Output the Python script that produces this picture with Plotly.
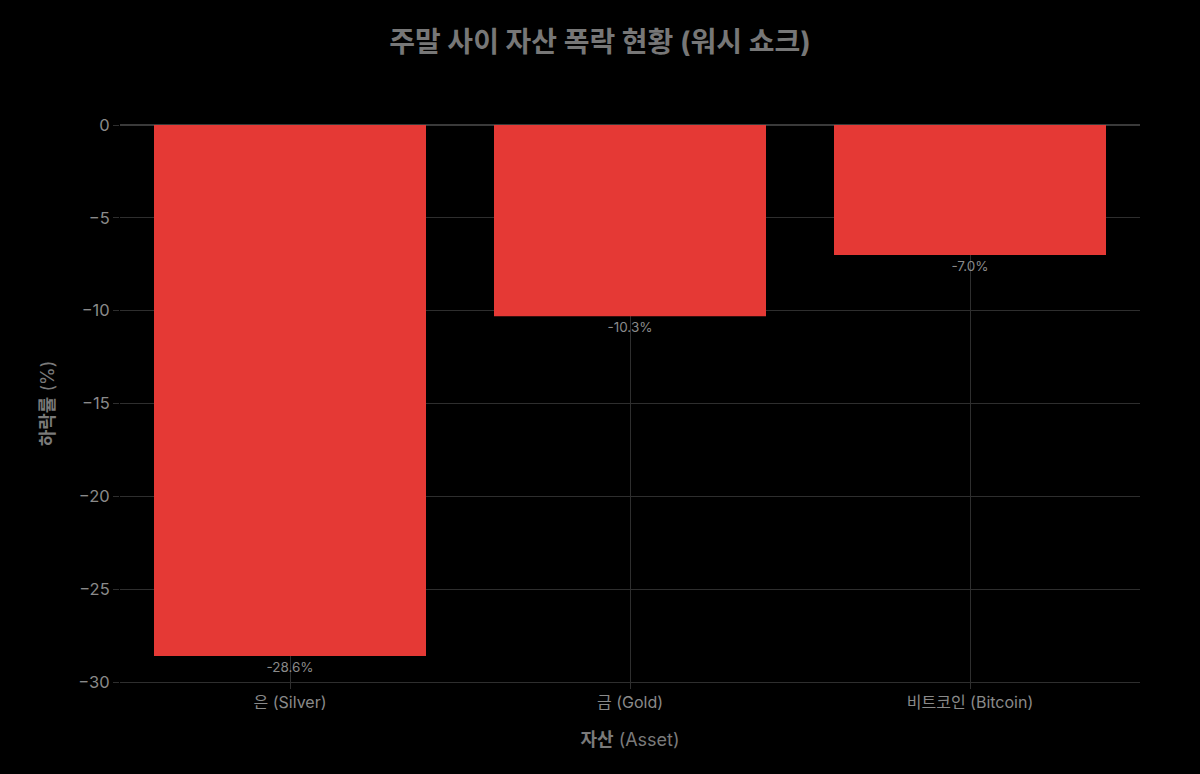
import plotly.graph_objects as go

categories = ["은 (Silver)", "금 (Gold)", "비트코인 (Bitcoin)"]
values = [-28.6, -10.3, -7.0]
labels = ["-28.6%", "-10.3%", "-7.0%"]
y_ticks = [0, -5, -10, -15, -20, -25, -30]
y_tick_text = ["0", "−5", "−10", "−15", "−20", "−25", "−30"]

font_family = "Inter, 'Noto Sans CJK KR', sans-serif"
grid = "#2e2e2e"
txt = "#8a8a8a"

fig = go.Figure(go.Bar(
    x=categories, y=values, text=labels, textposition="outside",
    marker=dict(color="#E53935", line=dict(width=0)),
    textfont=dict(color=txt, size=13.5, family=font_family),
    cliponaxis=False, width=0.8,
))

fig.update_layout(
    width=1200, height=774,
    paper_bgcolor="#000000", plot_bgcolor="#000000",
    margin=dict(l=120, r=60, t=125, b=92),
    font=dict(family=font_family, color=txt, size=16),
    title=dict(text="<b>주말 사이 자산 폭락 현황 (워시 쇼크)</b>", x=0.5, xanchor="center",
               y=0.945, yanchor="middle", font=dict(size=28, color="#777777")),
    showlegend=False,
)
fig.update_xaxes(
    title=dict(text="<b>자산</b> (Asset)", font=dict(size=18, color="#7a7a7a"), standoff=22),
    showgrid=True, gridcolor=grid, gridwidth=1,
    ticks="outside", ticklen=6, tickcolor=grid,
    showline=True, linecolor=grid, tickfont=dict(size=16, color=txt),
)
fig.update_yaxes(
    title=dict(text="<b>하락률</b> (%)", font=dict(size=18, color="#7a7a7a"), standoff=19),
    range=[-30, 0], tickvals=y_ticks, ticktext=y_tick_text,
    showgrid=True, gridcolor=grid, gridwidth=1,
    ticks="outside", ticklen=6, tickcolor=grid,
    zeroline=True, zerolinecolor="#3a3a3a", tickfont=dict(size=16.5, color=txt),
)

fig.write_html(
    "out.html",
    config={"displayModeBar": False},
    post_script="document.body.style.margin='0';document.body.style.background='#000';",
)
